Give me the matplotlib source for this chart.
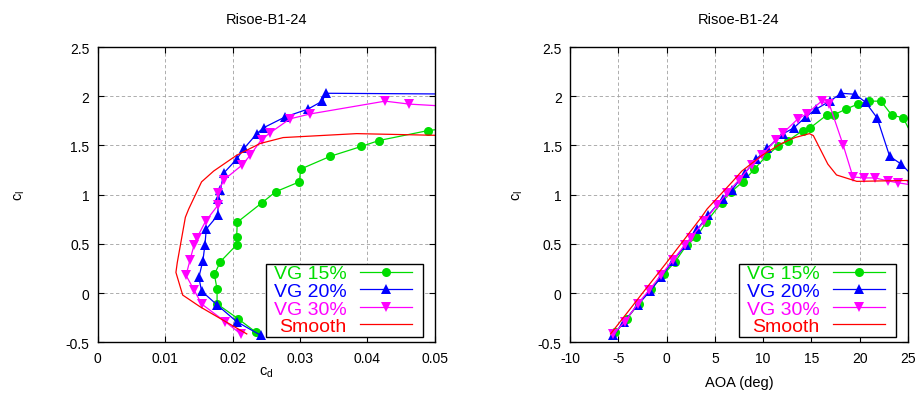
import numpy as np
import matplotlib
matplotlib.use("Agg")
import matplotlib.pyplot as plt
from matplotlib.patches import Rectangle
from matplotlib.ticker import FuncFormatter, MultipleLocator

plt.rcParams['font.family'] = ['Liberation Sans', 'DejaVu Sans']
plt.rcParams['mathtext.default'] = 'regular'

# Polar data: angle of attack (deg), lift coefficient, drag coefficient
alpha15 = [-5.3, -4.1, -2.9, -1.6, -0.3, 0.9, 2.1, 3.1, 4.1, 5.7, 6.7, 7.9, 9.1, 10.3,
           11.5, 12.6, 14.1, 14.9, 16.6, 17.3, 18.6, 19.8, 21.0, 22.2, 23.3, 24.5, 25.7]
cl15 = [-0.40, -0.26, -0.11, 0.04, 0.19, 0.32, 0.49, 0.57, 0.72, 0.92, 1.03, 1.13, 1.26, 1.39,
        1.49, 1.55, 1.65, 1.68, 1.81, 1.81, 1.87, 1.92, 1.95, 1.95, 1.81, 1.78, 1.55]
cd15 = [0.0235, 0.0208, 0.0177, 0.0177, 0.0173, 0.0182, 0.0206, 0.0206, 0.0207, 0.0244, 0.0264,
        0.0299, 0.0301, 0.0345, 0.0391, 0.0417, 0.0489, 0.0525, 0.060, 0.066, 0.074, 0.083,
        0.094, 0.107, 0.135, 0.155, 0.190]

alpha20 = [-5.5, -4.4, -3.0, -1.7, -0.6, 0.7, 2.0, 3.2, 4.3, 5.8, 6.8, 8.1, 9.3, 10.4, 12.1,
           13.2, 14.4, 15.5, 16.9, 18.1, 19.5, 20.6, 21.8, 23.1, 24.3, 25.6]
cl20 = [-0.43, -0.29, -0.12, 0.02, 0.16, 0.33, 0.49, 0.65, 0.79, 0.96, 1.05, 1.22, 1.36, 1.47,
        1.62, 1.68, 1.79, 1.87, 1.95, 2.03, 2.02, 1.94, 1.78, 1.39, 1.31, 1.18]
cd20 = [0.0242, 0.0206, 0.0177, 0.0154, 0.0150, 0.0156, 0.0159, 0.0161, 0.0178, 0.0179, 0.0182,
        0.0187, 0.0206, 0.0217, 0.0236, 0.0246, 0.0278, 0.0312, 0.0333, 0.0338, 0.058, 0.075,
        0.095, 0.150, 0.170, 0.200]

alpha30 = [-5.5, -4.3, -3.0, -1.8, -0.6, 0.7, 1.9, 2.5, 3.9, 5.2, 6.3, 7.5, 8.8, 9.9, 11.3,
           12.1, 13.6, 14.5, 16.05, 16.85, 18.3, 19.3, 20.4, 21.6, 22.9, 24.0, 25.3]
cl30 = [-0.415, -0.29, -0.11, 0.03, 0.18, 0.34, 0.49, 0.56, 0.73, 0.89, 1.02, 1.15, 1.30, 1.40,
        1.56, 1.63, 1.77, 1.82, 1.95, 1.92, 1.50, 1.18, 1.17, 1.17, 1.14, 1.12, 1.10]
cd30 = [0.0212, 0.0189, 0.0154, 0.0143, 0.0131, 0.0137, 0.0143, 0.0147, 0.0160, 0.0178, 0.0178,
        0.0187, 0.0214, 0.0226, 0.0243, 0.0256, 0.0285, 0.0315, 0.0426, 0.0462, 0.152, 0.20,
        0.22, 0.24, 0.26, 0.28, 0.30]

alpha_s = [-5.8, -3.6, -2.65, -0.8, 0.0, 3.6, 4.2, 6.8, 7.8, 9.9, 11.9, 13.3, 14.8, 15.2,
           16.7, 17.6, 19.7, 22.5, 25.5]
cl_s = [-0.415, -0.14, -0.02, 0.21, 0.31, 0.77, 0.855, 1.13, 1.24, 1.40, 1.52, 1.58, 1.62, 1.60,
        1.31, 1.20, 1.135, 1.14, 1.145]
cd_s = [0.0221, 0.0152, 0.0126, 0.0116, 0.0118, 0.0130, 0.0135, 0.0154, 0.0172, 0.0206, 0.0241,
        0.0275, 0.0384, 0.052, 0.12, 0.16, 0.20, 0.25, 0.30]

series = [
    ("VG 15%", alpha15, cl15, cd15, "#00dd00", "o", 6.5),
    ("VG 20%", alpha20, cl20, cd20, "#0000ff", "^", 6.5),
    ("VG 30%", alpha30, cl30, cd30, "#ff00ff", "v", 6.5),
    ("Smooth", alpha_s, cl_s, cd_s, "#ff0000", None, 0),
]

fig = plt.figure(figsize=(9.18, 4.10), dpi=100)
ax1 = fig.add_axes([0.1064, 0.1627, 0.3674, 0.7202])
ax2 = fig.add_axes([0.6209, 0.1627, 0.3682, 0.7202])

gfmt = FuncFormatter(lambda v, p: "%g" % round(v, 6))

legends = []
for ax, xkey in ((ax1, "cd"), (ax2, "alpha")):
    for name, a, cl, cd, col, mk, ms in series:
        x = cd if xkey == "cd" else a
        ax.plot(x, cl, color=col, lw=0.9, marker=mk, markersize=ms,
                markeredgewidth=0, label=name)
    ax.set_title("Risoe-B1-24", fontsize=10.5, pad=17)
    ax.set_ylim(-0.5, 2.5)
    ax.yaxis.set_major_locator(MultipleLocator(0.5))
    ax.yaxis.set_major_formatter(gfmt)
    ax.xaxis.set_major_formatter(gfmt)
    ax.grid(True, color="#a0a0a0", lw=0.6, linestyle=(0, (4, 3)))
    ax.tick_params(direction="in", top=True, right=True, length=4, width=0.8,
                   labelsize=10, pad=6)
    for s in ax.spines.values():
        s.set_linewidth(1.0)
    ax.set_ylabel("$c_l$", fontsize=10.5)
    ax.yaxis.set_label_coords(-0.21 if ax is ax1 else -0.134, 0.5)
    # key without its own frame; a box with wider side margins is drawn below
    leg = ax.legend(loc="lower right", bbox_to_anchor=(0.932, 0.024), borderaxespad=0,
                    markerfirst=False, fontsize=14, labelspacing=0.0, handlelength=2.7,
                    handletextpad=0.65, borderpad=0.0, frameon=False)
    for t, (name, a, cl, cd, col, mk, ms) in zip(leg.get_texts(), series):
        t.set_color(col)
    legends.append(leg)

ax1.set_xlim(0, 0.05)
ax1.xaxis.set_major_locator(MultipleLocator(0.01))
ax1.set_xlabel("$c_d$", fontsize=10.5)
ax1.xaxis.set_label_coords(0.5, -0.075)

ax2.set_xlim(-10, 25)
ax2.xaxis.set_major_locator(MultipleLocator(5))
ax2.set_xlabel("AOA (deg)", fontsize=10.5)
ax2.xaxis.set_label_coords(0.5, -0.11)

fig.canvas.draw()
renderer = fig.canvas.get_renderer()
inv = fig.transFigure.inverted()
for leg in legends:
    bb = leg.get_window_extent(renderer)
    x0, y0 = inv.transform((bb.x0 - 8, bb.y0 - 2))
    x1, y1 = inv.transform((bb.x1 + 11, bb.y1 + 1))
    fig.add_artist(Rectangle((x0, y0), x1 - x0, y1 - y0, transform=fig.transFigure,
                             facecolor="white", edgecolor="black", lw=1.0, zorder=4.9))
    leg.set_zorder(5)
    leg.remove()
    fig.add_artist(leg)

fig.savefig("out.png", dpi=100)
